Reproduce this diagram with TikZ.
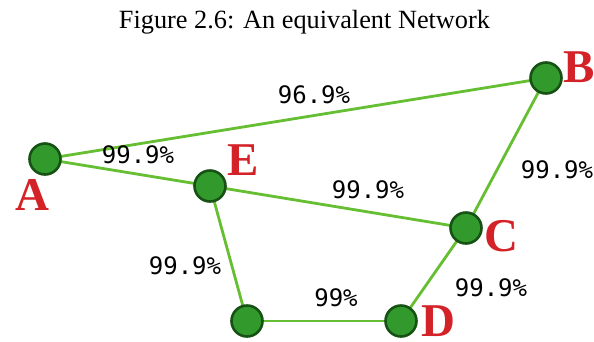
\documentclass[tikz,border=0pt]{standalone}
\usepackage{fontspec}
\setmainfont{Liberation Serif}
\setmonofont{DejaVu Sans Mono}
\begin{document}
\begin{tikzpicture}[x=1pt,y=-1pt,
  vertex/.style={circle,draw=nodeborder,fill=nodefill,line width=2.6pt,minimum size=31pt,inner sep=0pt},
  edge/.style={draw=edgegreen,line width=2.8pt},
  elabel/.style={font=\ttfamily\fontsize{24}{24}\selectfont,anchor=center,inner sep=0pt},
  vlabel/.style={font=\bfseries\fontsize{47}{47}\selectfont,text=labelred,anchor=base,inner sep=0pt}]
\definecolor{nodefill}{RGB}{50,154,45}
\definecolor{nodeborder}{RGB}{22,82,20}
\definecolor{edgegreen}{RGB}{102,190,50}
\definecolor{labelred}{RGB}{212,35,40}
\useasboundingbox (0,0) rectangle (594,341);
\node[font=\fontsize{26.3}{26.3}\selectfont,anchor=base,inner sep=0pt] (title) at (304.5,28) {Figure 2.6: An equivalent Network};
\coordinate (pA) at (45,159);
\coordinate (pB) at (546,78);
\coordinate (pE) at (210,186);
\coordinate (pC) at (466,228);
\coordinate (pD) at (401,321);
\coordinate (pF) at (247,321);
\draw[edge] (pA) -- (pB);
\draw[edge] (pA) -- (pE);
\draw[edge] (pE) -- (pC);
\draw[edge] (pB) -- (pC);
\draw[edge] (pE) -- (pF);
\draw[edge] (pF) -- (pD);
\draw[edge] (pC) -- (pD);
\node[vertex] (A) at (pA) {};
\node[vertex] (B) at (pB) {};
\node[vertex] (E) at (pE) {};
\node[vertex] (C) at (pC) {};
\node[vertex] (D) at (pD) {};
\node[vertex] (F) at (pF) {};
\node[vlabel] (lA) at (32,210) {A};
\node[vlabel] (lE) at (243,175) {E};
\node[vlabel] (lB) at (579,82) {B};
\node[vlabel] (lC) at (501,251) {C};
\node[vlabel] (lD) at (438,336.5) {D};
\node[elabel] (eAB) at (314,95) {96.9\%};
\node[elabel] (eAE) at (138,155) {99.9\%};
\node[elabel] (eEC) at (368,190) {99.9\%};
\node[elabel] (eBC) at (557,170) {99.9\%};
\node[elabel] (eEF) at (185,266) {99.9\%};
\node[elabel] (eFD) at (336,298) {99\%};
\node[elabel] (eCD) at (491,288) {99.9\%};
\end{tikzpicture}
\end{document}
